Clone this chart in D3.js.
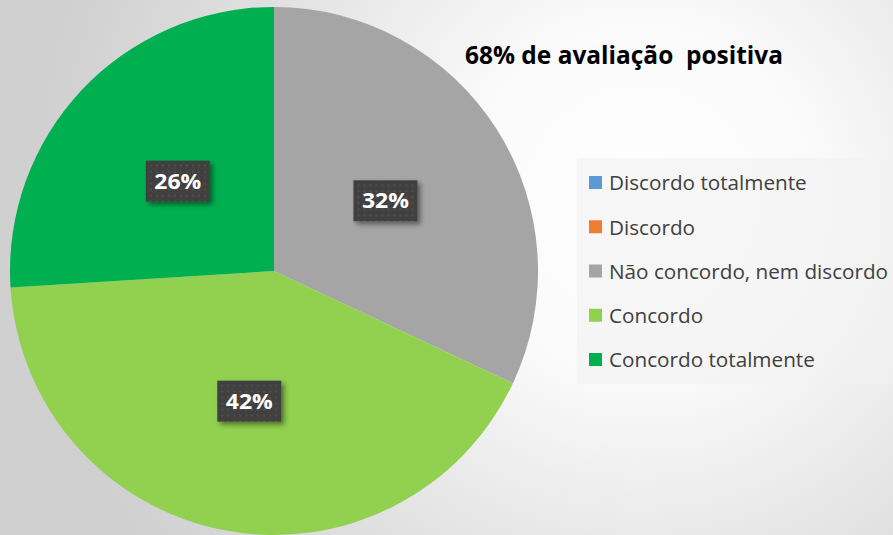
<!DOCTYPE html>
<html>
<head>
<meta charset="utf-8">
<script src="https://cdn.jsdelivr.net/npm/d3@7"></script>
<style>
  html, body { margin: 0; padding: 0; overflow: hidden; }
  svg text { font-family: "Open Sans", "Noto Sans", sans-serif; }
</style>
</head>
<body>
<svg id="chart" width="893" height="535"></svg>
<script>
const categories = ["Discordo totalmente", "Discordo", "Não concordo, nem discordo", "Concordo", "Concordo totalmente"];
const values = [0, 0, 32, 42, 26];
const colors = ["#5b9bd5", "#ed7d31", "#a5a5a5", "#92d050", "#00b050"];
const titleText = "68% de avaliação  positiva";

const width = 893, height = 535;
const cx = 274, cy = 271, radius = 264;

const svg = d3.select("#chart");
const defs = svg.append("defs");

// background: soft radial light
const bg = defs.append("radialGradient").attr("id", "bg")
  .attr("gradientUnits", "userSpaceOnUse")
  .attr("cx", 640).attr("cy", 200).attr("r", 600);
bg.append("stop").attr("offset", "0").attr("stop-color", "#ffffff");
bg.append("stop").attr("offset", "0.3").attr("stop-color", "#fafafa");
bg.append("stop").attr("offset", "0.7").attr("stop-color", "#e0e0e0");
bg.append("stop").attr("offset", "1").attr("stop-color", "#d0d0d0");

const dots = defs.append("pattern").attr("id", "dots")
  .attr("patternUnits", "userSpaceOnUse").attr("width", 6).attr("height", 6);
dots.append("rect").attr("width", 6).attr("height", 6).attr("fill", "#404040");
dots.append("rect").attr("x", 2).attr("y", 2).attr("width", 2).attr("height", 2).attr("fill", "#4f4f4f");

const shadow = defs.append("filter").attr("id", "shadow")
  .attr("x", "-30%").attr("y", "-30%").attr("width", "170%").attr("height", "170%");
shadow.append("feDropShadow").attr("dx", 3).attr("dy", 3).attr("stdDeviation", 2.5)
  .attr("flood-color", "#000").attr("flood-opacity", 0.45);

svg.append("rect").attr("width", width).attr("height", height).attr("fill", "url(#bg)");

const pie = d3.pie().sort(null).value(d => d.value);
const data = categories.map((c, i) => ({ name: c, value: values[i], color: colors[i] }));
const arcs = pie(data);
const arc = d3.arc().innerRadius(0).outerRadius(radius);
const labelArc = d3.arc().innerRadius(radius / 2).outerRadius(radius / 2);

const g = svg.append("g").attr("transform", `translate(${cx},${cy})`);
g.selectAll("path").data(arcs.filter(d => d.value > 0)).join("path")
  .attr("d", arc)
  .attr("fill", d => d.data.color);

const total = d3.sum(values);
const labels = g.selectAll("g.lbl").data(arcs.filter(d => d.value > 0)).join("g")
  .attr("class", "lbl")
  .attr("transform", d => `translate(${labelArc.centroid(d)})`);
labels.append("rect")
  .attr("x", -32).attr("y", -20).attr("width", 64).attr("height", 41)
  .attr("fill", "url(#dots)")
  .attr("filter", "url(#shadow)");
labels.append("text")
  .attr("text-anchor", "middle").attr("dy", "0.36em")
  .attr("font-size", 22).attr("font-weight", 700).attr("fill", "#ffffff")
  .attr("textLength", 47).attr("lengthAdjust", "spacingAndGlyphs")
  .text(d => Math.round(d.value / total * 100) + "%");

// title
svg.append("text")
  .attr("x", 465).attr("y", 64)
  .attr("font-size", 25).attr("font-weight", 700).attr("fill", "#000")
  .attr("textLength", 318).attr("lengthAdjust", "spacingAndGlyphs")
  .attr("xml:space", "preserve")
  .style("white-space", "pre")
  .text(titleText);

// legend
const legend = svg.append("g");
legend.append("rect")
  .attr("x", 577).attr("y", 158).attr("width", 316).attr("height", 226)
  .attr("fill", "#f2f2f2").attr("opacity", 0.6);
const rowY = d3.scalePoint().domain(categories).range([183, 360]);
const items = legend.selectAll("g.item").data(data).join("g")
  .attr("class", "item")
  .attr("transform", d => `translate(589,${rowY(d.name)})`);
items.append("rect")
  .attr("x", 0).attr("y", -7).attr("width", 13).attr("height", 13)
  .attr("fill", d => d.color);
items.append("text")
  .attr("x", 20).attr("y", 0).attr("dy", "0.35em")
  .attr("font-size", 20.7).attr("fill", "#404040")
  .text(d => d.name);
</script>
</body>
</html>
